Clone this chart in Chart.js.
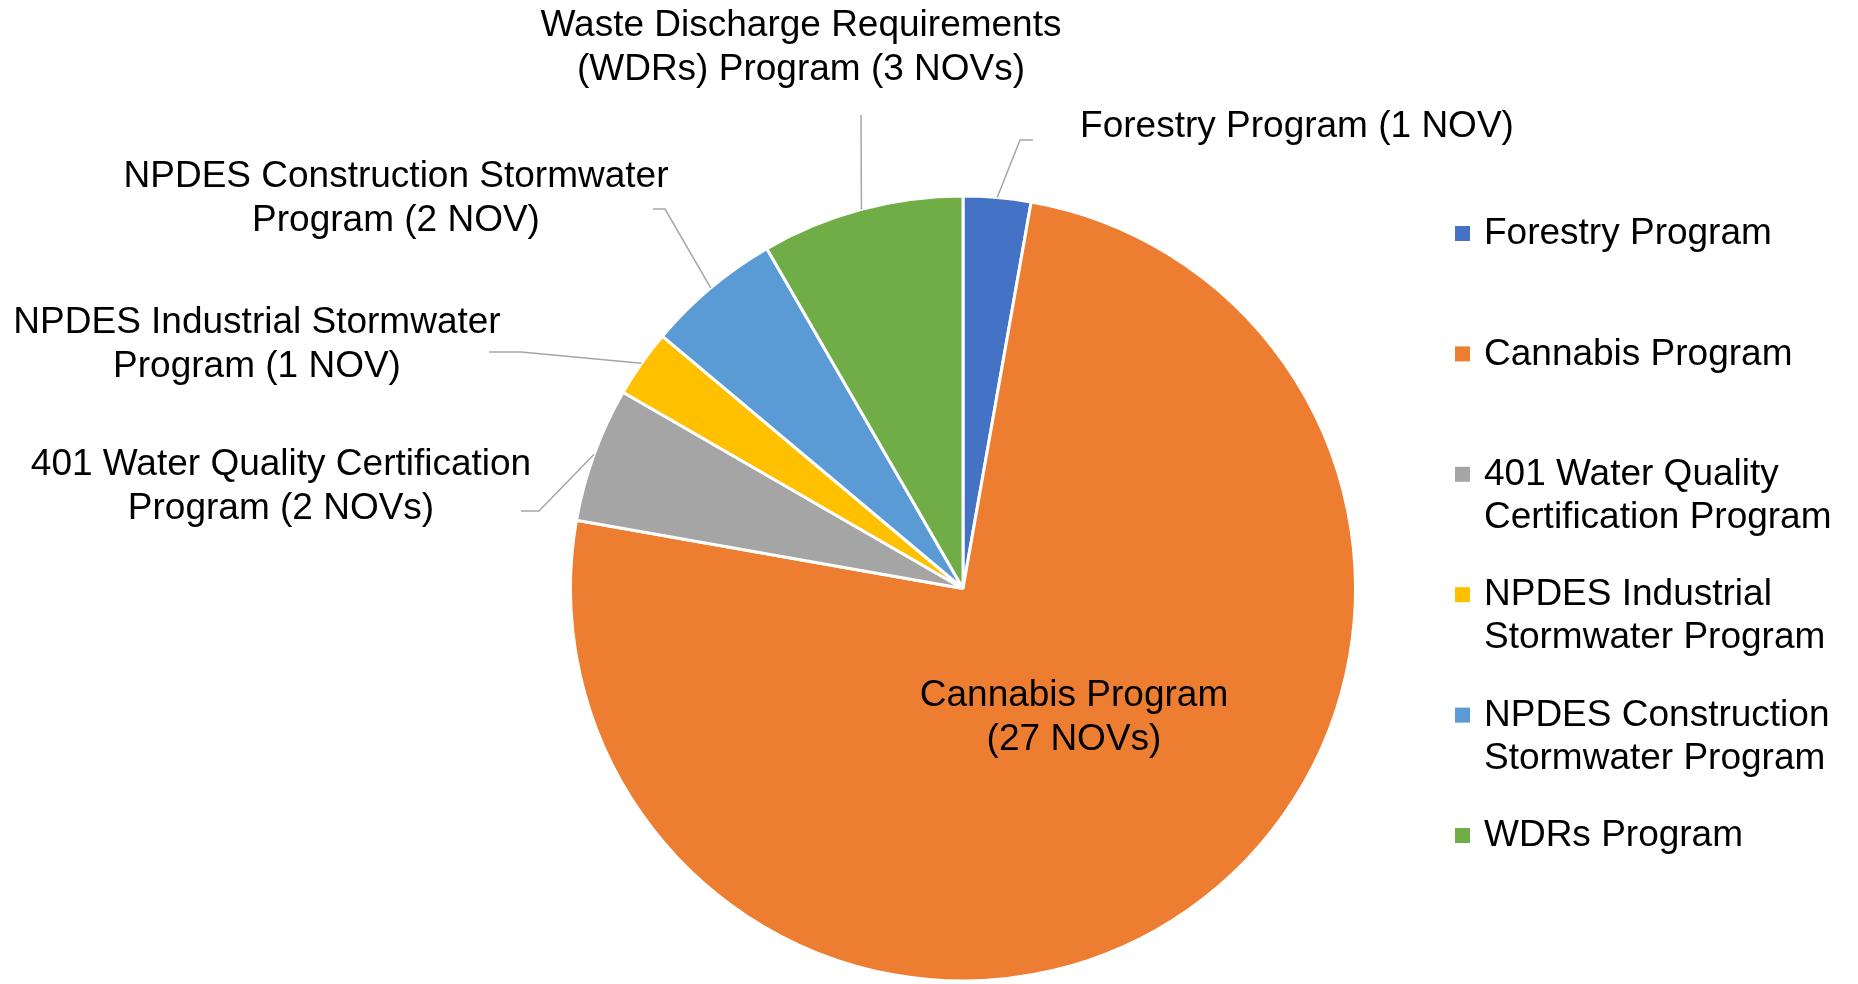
<!DOCTYPE html>
<html>
<head>
<meta charset="utf-8">
<script src="https://cdn.jsdelivr.net/npm/chart.js@4.4.1/dist/chart.umd.min.js"></script>
<style>
  html, body { margin: 0; padding: 0; background: #fff; }
  #wrap { width: 1858px; height: 984px; position: relative; }
</style>
</head>
<body>
<div id="wrap"><canvas id="pie"></canvas></div>
<script>
// data
const programs = ['Forestry Program', 'Cannabis Program', '401 Water Quality Certification Program',
  'NPDES Industrial Stormwater Program', 'NPDES Construction Stormwater Program', 'WDRs Program'];
const novCounts = [1, 27, 2, 1, 2, 3];
const sliceColors = ['#4472C4', '#ED7D31', '#A5A5A5', '#FFC000', '#5B9BD5', '#70AD47'];
const legendLines = [
  ['Forestry Program'],
  ['Cannabis Program'],
  ['401 Water Quality', 'Certification Program'],
  ['NPDES Industrial', 'Stormwater Program'],
  ['NPDES Construction', 'Stormwater Program'],
  ['WDRs Program']
];
const dataLabelLines = [
  ['Forestry Program (1 NOV)'],
  ['Cannabis Program', '(27 NOVs)'],
  ['401 Water Quality Certification', 'Program (2 NOVs)'],
  ['NPDES Industrial Stormwater', 'Program (1 NOV)'],
  ['NPDES Construction Stormwater', 'Program (2 NOV)'],
  ['Waste Discharge Requirements', '(WDRs) Program (3 NOVs)']
];

// where each data label sits (text centre x, first line y) and the leader bends
const labelSpots = [
  { x: 1297, y: 127, leader: [[1020, 140], [1033, 140]] },
  { x: 1074, y: 696, leader: null },
  { x: 281, y: 465, leader: [[539, 511], [521, 511]] },
  { x: 257, y: 323, leader: [[521, 352], [489, 352]] },
  { x: 396, y: 177, leader: [[665, 209], [653, 209]] },
  { x: 801, y: 26, leader: [[861, 115]] }
];

const FONT = '37px "Liberation Sans", Arial, sans-serif';
const LINE_H = 44;

const labelsPlugin = {
  id: 'pieLabels',
  afterDatasetsDraw(chart) {
    const ctx = chart.ctx;
    const arcs = chart.getDatasetMeta(0).data;
    ctx.save();
    // leader lines
    ctx.strokeStyle = '#A6A6A6';
    ctx.lineWidth = 1.5;
    arcs.forEach((arc, i) => {
      const spot = labelSpots[i];
      if (!spot.leader) return;
      const p = arc.getProps(['x', 'y', 'startAngle', 'endAngle', 'outerRadius'], true);
      const mid = (p.startAngle + p.endAngle) / 2;
      ctx.beginPath();
      ctx.moveTo(p.x + Math.cos(mid) * p.outerRadius, p.y + Math.sin(mid) * p.outerRadius);
      spot.leader.forEach(pt => ctx.lineTo(pt[0], pt[1]));
      ctx.stroke();
    });
    // label text
    ctx.font = FONT;
    ctx.fillStyle = '#000';
    ctx.textAlign = 'center';
    ctx.textBaseline = 'middle';
    dataLabelLines.forEach((lines, i) => {
      const spot = labelSpots[i];
      lines.forEach((t, k) => ctx.fillText(t, spot.x, spot.y + k * LINE_H));
    });
    // legend
    const lx = 1455, ty = 234, step = 120.4;
    ctx.textAlign = 'left';
    programs.forEach((name, i) => {
      const y = ty + i * step;
      ctx.fillStyle = sliceColors[i];
      ctx.fillRect(lx, y - 8, 15, 15);
      ctx.fillStyle = '#000';
      legendLines[i].forEach((t, k) => ctx.fillText(t, lx + 29, y + k * 43));
    });
    ctx.restore();
  }
};

new Chart(document.getElementById('pie'), {
  type: 'pie',
  data: {
    labels: programs,
    datasets: [{
      data: novCounts,
      backgroundColor: sliceColors,
      borderColor: '#fff',
      borderWidth: 3
    }]
  },
  options: {
    responsive: true,
    maintainAspectRatio: false,
    animation: false,
    layout: { padding: { left: 569, right: 501, top: 194, bottom: 1 } },
    plugins: {
      legend: { display: false },
      tooltip: { enabled: false }
    }
  },
  plugins: [labelsPlugin]
});
</script>
</body>
</html>
